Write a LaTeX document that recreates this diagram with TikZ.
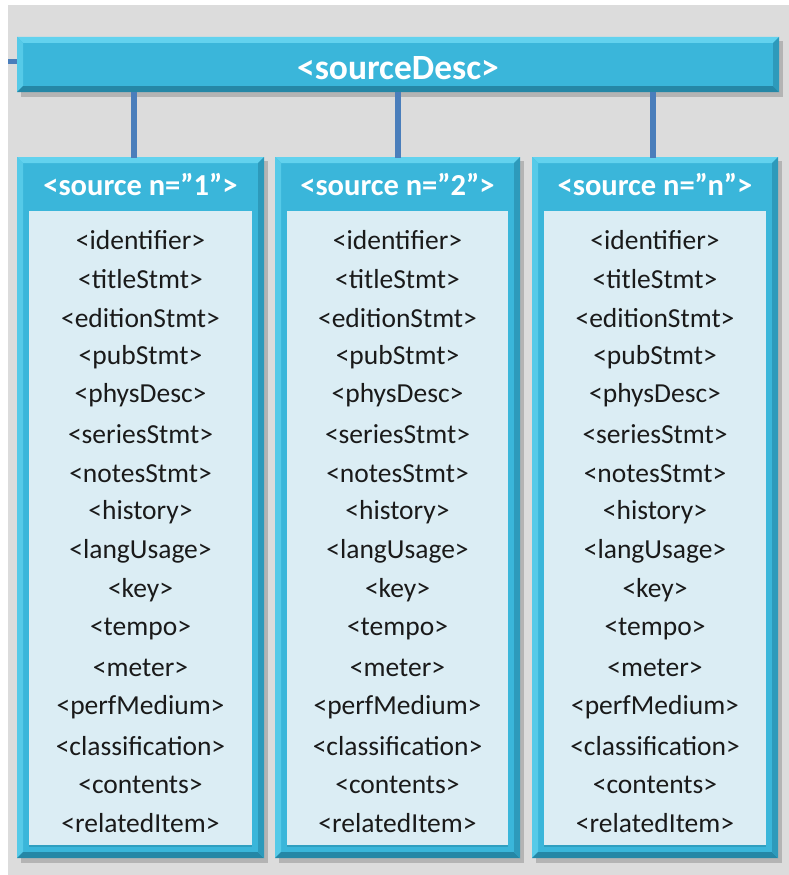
\documentclass[tikz,border=0pt]{standalone}
\usepackage{fontspec}
\setmainfont{Carlito}
\definecolor{bg}{HTML}{DCDCDC}
\definecolor{barfill}{HTML}{3AB6DA}
\definecolor{barlight}{HTML}{62D2EE}
\definecolor{bardark}{HTML}{2587A6}
\definecolor{panel}{HTML}{DBEDF4}
\definecolor{conn}{HTML}{4A7EBB}
\definecolor{itemtext}{HTML}{1A1A1A}
\tikzset{
  conline/.style={draw=conn,line width=6pt},
  stubline/.style={draw=conn,line width=5pt},
  itemnode/.style={font=\fontsize{27.5}{30}\selectfont,text=itemtext,inner sep=0pt,anchor=center},
  headnode/.style={font=\bfseries\fontsize{30.5}{32}\selectfont,text=white,inner sep=0pt,anchor=center},
  titlenode/.style={font=\bfseries\fontsize{35.5}{37}\selectfont,text=white,inner sep=0pt,anchor=center},
}
\newcommand{\bevel}[4]{% x1 y1 x2 y2
  \fill[black,opacity=0.18] (#1+4,#2+4) rectangle (#3+4,#4+5);
  \fill[barfill] (#1,#2) rectangle (#3,#4);
  \fill[barlight] (#1,#2) -- (#3,#2) -- (#3-6,#2+6) -- (#1+6,#2+6) -- cycle;
  \fill[barlight!70!barfill] (#1,#2) -- (#1+6,#2+6) -- (#1+6,#4-6) -- (#1,#4) -- cycle;
  \fill[bardark] (#1,#4) -- (#3,#4) -- (#3-6,#4-6) -- (#1+6,#4-6) -- cycle;
  \fill[bardark!60!barfill] (#3,#2) -- (#3,#4) -- (#3-6,#4-6) -- (#3-6,#2+6) -- cycle;
}
\begin{document}
\begin{tikzpicture}[x=1pt,y=-1pt]
\useasboundingbox (0,0) rectangle (789,875);
\fill[white] (0,0) rectangle (789,875);
\fill[bg] (8,5) rectangle (789,875);

\coordinate (lstub) at (8,62);
\coordinate (c1) at (134,92);
\coordinate (c2) at (398,92);
\coordinate (c3) at (653,92);

% top bar
\bevel{17}{37}{779}{92}
\node[titlenode] (sd) at (398,68) {<sourceDesc>};
\coordinate (sdleft) at (17,62);
\draw[stubline] (lstub) -- (sdleft);

\foreach \i/\xa/\xb/\cx/\lab in {1/17/264/134/1, 2/275/520/398/2, 3/532/778/653/n}{
  \pgfmathsetmacro{\xm}{(\xa+\xb)/2}
  \coordinate (top\i) at (\cx,158);
  \bevel{\xa}{157}{\xb}{858}
  \node[headnode] (h\i) at (\xm,185) {<source n=”\lab”>};
  \fill[panel] (\xa+12,211) rectangle (\xb-12,845);
  \fill[bardark!50!barfill] (\xa+12,845) rectangle (\xb-12,847);
  \foreach \t [count=\k] in {identifier,titleStmt,editionStmt,pubStmt,physDesc,seriesStmt,notesStmt,history,langUsage,key,tempo,meter,perfMedium,classification,contents,relatedItem}{
    \node[itemnode] (b\i i\k) at (\xm,{240+(\k-1)*38.9}) {<\t>};
  }
}
\draw[conline] (c1) -- (top1);
\draw[conline] (c2) -- (top2);
\draw[conline] (c3) -- (top3);
\end{tikzpicture}
\end{document}
